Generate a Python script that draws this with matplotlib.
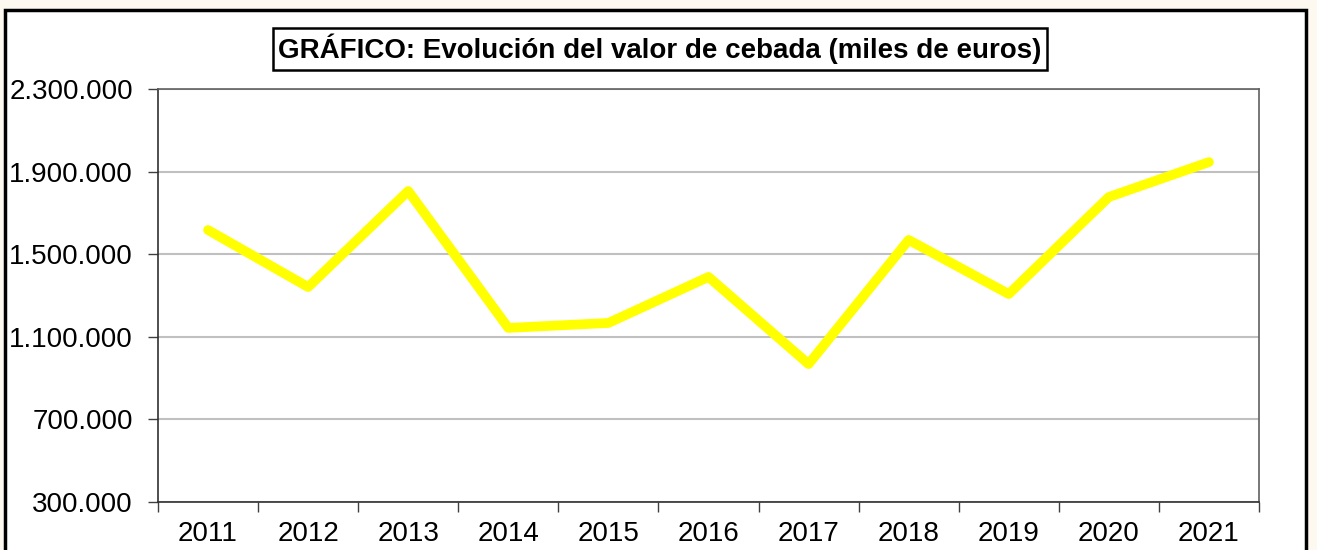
import numpy as np
import matplotlib.pyplot as plt
from matplotlib.patches import Rectangle
from matplotlib.ticker import FuncFormatter

# Data (miles de euros)
years = ['2011', '2012', '2013', '2014', '2015', '2016', '2017', '2018', '2019', '2020', '2021']
valor = [1617000, 1341000, 1806000, 1143000, 1167000, 1390000, 968000, 1569000, 1307000, 1777000, 1946000]
yticks = [300000, 700000, 1100000, 1500000, 1900000, 2300000]

plt.rcParams['font.family'] = ['Liberation Sans', 'DejaVu Sans']

fig = plt.figure(figsize=(13.17, 5.5), dpi=100)
fig.patch.set_facecolor('#fdf8f0')

# white chart area with black frame
frame = Rectangle((5 / 1317, -0.05), 1301 / 1317, 1.05 - 10 / 550,
                  transform=fig.transFigure, facecolor='white',
                  edgecolor='black', linewidth=2.5, zorder=-5)
fig.patches.append(frame)

ax = fig.add_axes([158 / 1317, 48 / 550, 1101 / 1317, 413 / 550])
ax.set_facecolor('white')

x = np.arange(len(years))
ax.plot(x, valor, color='#ffff00', linewidth=7, solid_capstyle='round', zorder=3)

ax.set_xlim(-0.5, len(years) - 0.5)
ax.set_ylim(yticks[0], yticks[-1])
ax.set_yticks(yticks)
ax.yaxis.set_major_formatter(FuncFormatter(lambda v, p: f'{int(v):,}'.replace(',', '.')))
ax.grid(axis='y', color='#c0c0c0', linewidth=1.5)
ax.set_axisbelow(True)

ax.set_xticks(x)
ax.set_xticklabels(years)
ax.set_xticks(np.arange(-0.5, len(years)), minor=True)
ax.tick_params(axis='x', which='major', length=0, pad=14, labelsize=20)
ax.tick_params(axis='x', which='minor', length=7, width=1, color='#404040')
ax.tick_params(axis='y', length=7, width=1, color='#404040', pad=11, labelsize=20)

for side in ['left', 'bottom']:
    ax.spines[side].set_color('#303030')
    ax.spines[side].set_linewidth(1.2)
for side in ['top', 'right']:
    ax.spines[side].set_color('#606060')
    ax.spines[side].set_linewidth(1.2)

fig.text(0.501, 0.911, 'GRÁFICO: Evolución del valor de cebada (miles de euros)',
         ha='center', va='center', fontsize=20, fontweight='bold',
         bbox=dict(boxstyle='square,pad=0.2', facecolor='white',
                   edgecolor='black', linewidth=1.8))

fig.savefig('out.png', dpi=100, facecolor=fig.get_facecolor())
